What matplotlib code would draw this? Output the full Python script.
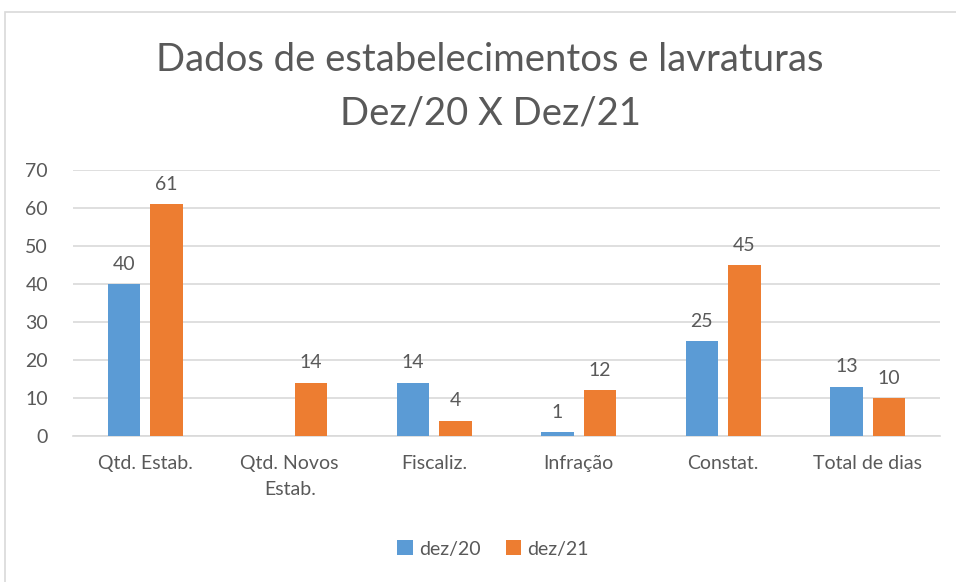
import numpy as np
import matplotlib
matplotlib.use("Agg")
import matplotlib.pyplot as plt
from matplotlib.patches import Rectangle

# Dados
categorias = ["Qtd. Estab.", "Qtd. Novos\nEstab.", "Fiscaliz.", "Infração", "Constat.", "Total de dias"]
dez20 = [40, np.nan, 14, 1, 25, 13]
dez21 = [61, 14, 4, 12, 45, 10]
series = ["dez/20", "dez/21"]

AZUL = "#5B9BD5"
LARANJA = "#ED7D31"
TEXTO = "#595959"

plt.rcParams["font.family"] = ["Lato", "DejaVu Sans"]

fig = plt.figure(figsize=(9.56, 5.82), dpi=100)
ax = fig.add_axes([73 / 956, 1 - 436 / 582, 867 / 956, 266 / 582])

# borda clara do gráfico (lados direito e inferior cortados na imagem)
fig.patches.append(Rectangle((5 / 956, -0.2), 1.2, 1.2 - 12 / 582, transform=fig.transFigure,
                             fill=False, edgecolor="#d9d9d9", linewidth=1.2))

x = np.arange(len(categorias))
w = 0.225
gap = 0.035
b1 = ax.bar(x - w / 2 - gap, np.nan_to_num(dez20), w, color=AZUL, label=series[0], zorder=3)
b2 = ax.bar(x + w / 2 + gap, dez21, w, color=LARANJA, label=series[1], zorder=3)

for xi, v in zip(x, dez20):
    if not np.isnan(v):
        ax.text(xi - w / 2 - gap, v + 3, f"{v:g}", ha="center", va="bottom", fontsize=14, color=TEXTO)
for xi, v in zip(x, dez21):
    ax.text(xi + w / 2 + gap, v + 3, f"{v:g}", ha="center", va="bottom", fontsize=14, color=TEXTO)

ax.set_xlim(-0.5, len(categorias) - 0.5)
ax.set_ylim(0, 70)
ax.set_yticks(range(0, 71, 10))
ax.yaxis.grid(True, color="#d9d9d9", linewidth=1.2, zorder=0)
ax.set_xticks(x)
ax.set_xticklabels(categorias, fontsize=14, color=TEXTO, linespacing=1.6)
ax.tick_params(axis="y", labelsize=14, labelcolor=TEXTO, length=0, pad=18)
ax.tick_params(axis="x", length=0, pad=14)
for s in ["top", "right", "left"]:
    ax.spines[s].set_visible(False)
ax.spines["bottom"].set_color("#d9d9d9")
ax.spines["bottom"].set_linewidth(1.2)

fig.text(490 / 956, 1 - 60 / 582, "Dados de estabelecimentos e lavraturas", ha="center", va="center",
         fontsize=27.5, color=TEXTO)
fig.text(490 / 956, 1 - 113 / 582, "Dez/20 X Dez/21", ha="center", va="center", fontsize=27.5, color=TEXTO)

fig.legend(handles=[b1, b2], labels=series, loc="center", bbox_to_anchor=(493 / 956, 1 - 549 / 582),
           ncol=2, frameon=False, fontsize=14, labelcolor=TEXTO, handlelength=0.8, handleheight=0.8,
           handletextpad=0.3, columnspacing=1.3)

fig.savefig("out.png", dpi=100)
